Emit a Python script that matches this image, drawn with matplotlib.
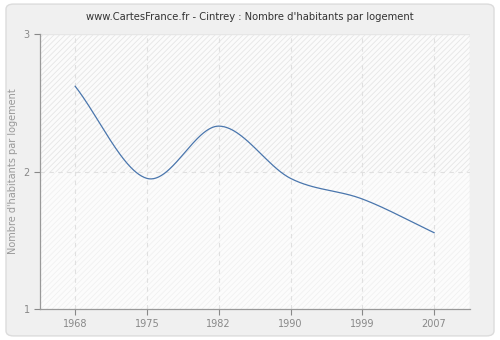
import numpy as np
import matplotlib
matplotlib.use("Agg")
import matplotlib.pyplot as plt
from matplotlib.patches import FancyBboxPatch

years = ["1968", "1975", "1982", "1990", "1999", "2007"]
values = [2.62, 1.95, 2.33, 1.95, 1.80, 1.555]
title = "www.CartesFrance.fr - Cintrey : Nombre d'habitants par logement"
ylabel = "Nombre d'habitants par logement"


def catmull_rom(y, per=80):
    y = np.asarray(y, float)
    n = len(y)
    m = np.zeros(n)
    m[1:-1] = (y[2:] - y[:-2]) / 2
    m[0] = y[1] - y[0]
    m[-1] = y[-1] - y[-2]
    xs, ys = [], []
    for k in range(n - 1):
        t = np.linspace(0, 1, per, endpoint=(k == n - 2))
        h00 = 2 * t**3 - 3 * t**2 + 1; h10 = t**3 - 2 * t**2 + t
        h01 = -2 * t**3 + 3 * t**2; h11 = t**3 - t**2
        xs.append(k + t)
        ys.append(h00 * y[k] + h10 * m[k] + h01 * y[k + 1] + h11 * m[k + 1])
    return np.concatenate(xs), np.concatenate(ys)


fig = plt.figure(figsize=(5, 3.4), dpi=100)
fig.patch.set_facecolor("white")
bg = FancyBboxPatch((0.012, 0.012), 0.976, 0.976, boxstyle="round,pad=0,rounding_size=0.015",
                    transform=fig.transFigure, facecolor="#f0f0f0", edgecolor="#dcdcdc",
                    linewidth=1, zorder=-10)
fig.patches.append(bg)

ax = fig.add_axes([40 / 500, 1 - 309 / 340, 430 / 500, 275 / 340])
ax.set_facecolor("#fafafa")
x = np.arange(len(years))
ax.set_xlim(-0.49, 5.5)
ax.set_ylim(1, 3)

plt.rcParams["hatch.linewidth"] = 0.6
ax.axhspan(2, 3, facecolor="#fbfbfb", hatch="//////", edgecolor="#e6e6e6", linewidth=0, zorder=0)
ax.axhspan(1, 2, facecolor="#fcfcfc", hatch="//////", edgecolor="#f1f1f1", linewidth=0, zorder=0)

for xi in x:
    ax.axvline(xi, color="#e0e0e0", linestyle=(0, (4, 4)), linewidth=0.8, zorder=1)
ax.axhline(2, color="#e0e0e0", linestyle=(0, (4, 4)), linewidth=0.8, zorder=1)
ax.axhline(3, color="#e6e6e6", linewidth=1.0, zorder=1)
ax.axvline(5.5, color="#e6e6e6", linewidth=1.0, zorder=1)

xs, ys = catmull_rom(values)
ax.plot(xs, ys, color="#4a76ad", linewidth=0.9, zorder=3)

ax.set_xticks(x)
ax.set_xticklabels(years)
ax.set_yticks([1, 2, 3])
ax.set_yticklabels(["1", "2", "3"])
ax.tick_params(axis="both", colors="#888888", labelsize=7, length=4, width=0.8, labelcolor="#888888")
for s in ["top", "right"]:
    ax.spines[s].set_visible(False)
for s in ["left", "bottom"]:
    ax.spines[s].set_color("#999999")
    ax.spines[s].set_linewidth(0.9)

ax.set_ylabel(ylabel, fontsize=7, color="#999999", labelpad=4)
fig.text(0.5, 1 - 17 / 340, title, ha="center", va="center", fontsize=7.2, color="#333333")

fig.savefig("out.png", dpi=100, facecolor=fig.get_facecolor())
